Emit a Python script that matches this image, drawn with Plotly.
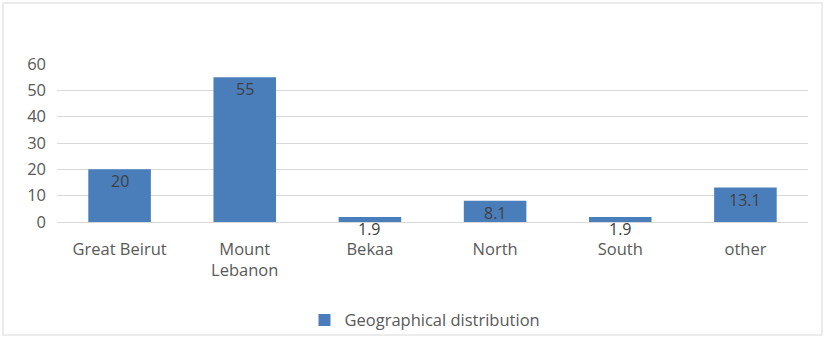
import plotly.graph_objects as go

categories = ["Great Beirut", "Mount<br>Lebanon", "Bekaa", "North", "South", "other"]
values = [20, 55, 1.9, 8.1, 1.9, 13.1]
value_labels = ["20", "55", "1.9", "8.1", "1.9", "13.1"]
series_name = "Geographical distribution"
y_ticks = [0, 10, 20, 30, 40, 50, 60]

BLUE = "#4a7ebb"
TXT = "#595959"
FONT = "Open Sans"
FS = 16.5

fig = go.Figure()
fig.add_trace(go.Bar(
    x=categories, y=values, name=series_name,
    marker=dict(color=BLUE, line=dict(width=0)),
    width=0.5, showlegend=True,
))

for c, v, t in zip(categories, values, value_labels):
    fig.add_annotation(x=c, y=v, text=t, showarrow=False, yanchor="top", yshift=0, borderpad=0,
                       font=dict(family=FONT, size=16, color="#404040"))

fig.add_shape(type="rect", xref="paper", yref="paper",
              x0=-54/751, x1=(822-57)/751, y0=(222-335)/158, y1=(222-3)/158,
              line=dict(color="#d9d9d9", width=1), fillcolor="rgba(0,0,0,0)", layer="below")

fig.update_layout(
    width=825, height=337,
    margin=dict(l=57, r=17, t=64, b=115, autoexpand=False),
    paper_bgcolor="white", plot_bgcolor="white",
    font=dict(family=FONT, size=FS, color=TXT),
    bargap=0.5,
    legend=dict(orientation="h", x=0.49, xanchor="center", yref="container", y=0.05, yanchor="middle",
                bgcolor="rgba(0,0,0,0)",
                font=dict(family=FONT, size=FS, color=TXT), itemwidth=30),
    xaxis=dict(showgrid=False, showline=False, zeroline=False, ticks="", automargin=False,
               ticklabelstandoff=15, tickfont=dict(family=FONT, size=FS, color=TXT)),
    yaxis=dict(range=[0, 60], tickvals=y_ticks, showgrid=True, gridcolor="#d9d9d9", gridwidth=1,
               zeroline=True, zerolinecolor="#d9d9d9", zerolinewidth=1, showline=False, automargin=False,
               ticks="", ticklabelstandoff=10, tickfont=dict(family=FONT, size=FS, color=TXT)),
)

fig.write_html("out.html")
